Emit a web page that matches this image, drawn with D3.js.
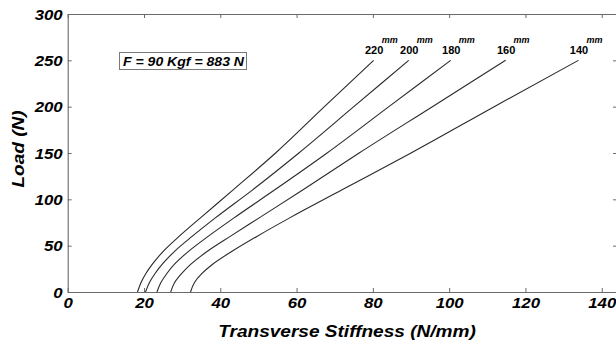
<!DOCTYPE html>
<html>
<head>
<meta charset="utf-8">
<script src="https://cdn.jsdelivr.net/npm/d3@7"></script>
<style>
  html, body { margin: 0; padding: 0; background: #fff; }
  svg { display: block; }
  text { font-family: "Liberation Sans", Arial, Helvetica, sans-serif; }
</style>
</head>
<body>
<svg id="chart" width="616" height="349"></svg>
<script>
// Transverse stiffness vs. load for five tyre/spring widths (F = 90 Kgf)
const loads = [0, 10, 20, 30, 45, 60, 80, 110, 150, 200, 250];
const widths = ["220", "200", "180", "160", "140"];
const stiff220 = [18.3, 19.2, 20.5, 22.2, 25.3, 29.2, 34.8, 43.3, 54.5, 67.3, 80.2];
const stiff200 = [20.4, 21.4, 22.9, 24.8, 28.3, 32.6, 38.7, 48.4, 60.6, 75.0, 89.4];
const stiff180 = [23.4, 24.4, 26.0, 28.0, 32.0, 36.8, 43.6, 54.2, 68.0, 84.2, 100.4];
const stiff160 = [27.0, 28.0, 29.9, 32.3, 37.0, 42.6, 50.2, 61.6, 76.4, 95.6, 114.8];
const stiff140 = [32.2, 33.2, 35.2, 38.0, 43.5, 49.6, 58.2, 71.8, 90.0, 111.8, 133.9];
const xTicks = [0, 20, 40, 60, 80, 100, 120, 140];
const yTicks = [0, 50, 100, 150, 200, 250, 300];
const unitLabel = "mm";
const noteText = "F = 90 Kgf = 883 N";

const seriesValues = [stiff220, stiff200, stiff180, stiff160, stiff140];
const series = widths.map((w, i) => ({
  width: w,
  points: loads.map((L, j) => ({ load: L, k: seriesValues[i][j] }))
}));

const svg = d3.select("#chart");
const x = d3.scaleLinear().domain([0, 144]).range([67.7, 617]);
const y = d3.scaleLinear().domain([0, 300]).range([292, 14]);

const axisColor = "#6a6a6a";
const tickFont = 'italic bold 14px "Liberation Sans", Arial, sans-serif';

// widen glyph runs horizontally by a factor k
function stretch(sel, k) {
  sel.each(function () {
    const w = this.getComputedTextLength();
    this.setAttribute("textLength", (w * k).toFixed(2));
    this.setAttribute("lengthAdjust", "spacingAndGlyphs");
  });
}

function styleAxis(g, showLabels) {
  g.select(".domain").attr("stroke", axisColor).attr("stroke-width", 1.1);
  g.selectAll(".tick line").attr("stroke", axisColor).attr("stroke-width", 1);
  g.selectAll(".tick text")
    .attr("fill", "#000")
    .style("font", tickFont)
    .style("display", showLabels ? null : "none");
}

// frame: four axes with inward ticks
const gx = svg.append("g").attr("transform", `translate(0,${y(0)})`)
  .call(d3.axisBottom(x).tickValues(xTicks).tickSizeInner(-4).tickSizeOuter(0).tickPadding(6));
styleAxis(gx, true);
const gxt = svg.append("g").attr("transform", `translate(0,${y(300)})`)
  .call(d3.axisTop(x).tickValues(xTicks).tickSizeInner(-4).tickSizeOuter(0).tickFormat(""));
styleAxis(gxt, false);
const gy = svg.append("g").attr("transform", `translate(${x(0)},0)`)
  .call(d3.axisLeft(y).tickValues(yTicks).tickSizeInner(-4).tickSizeOuter(0).tickPadding(5));
styleAxis(gy, true);
const gyr = svg.append("g").attr("transform", `translate(${x(144)},0)`)
  .call(d3.axisRight(y).tickValues(yTicks).tickSizeInner(-4).tickSizeOuter(0).tickFormat(""));
styleAxis(gyr, false);

gy.selectAll(".tick text").attr("dy", "0.36em");
stretch(gx.selectAll(".tick text"), 1.2);
stretch(gy.selectAll(".tick text"), 1.2);

// curves
const line = d3.line()
  .x(d => x(d.k))
  .y(d => y(d.load))
  .curve(d3.curveMonotoneY);

svg.append("g").selectAll("path")
  .data(series)
  .join("path")
  .attr("d", d => line(d.points))
  .attr("fill", "none")
  .attr("stroke", "#2a2a2a")
  .attr("stroke-width", 1.1);

// width labels at the top end of each curve
const lab = svg.append("g").selectAll("g")
  .data(series)
  .join("g")
  .attr("transform", d => {
    const end = d.points[d.points.length - 1];
    return `translate(${x(end.k)},${y(end.load)})`;
  });
lab.append("text")
  .attr("x", 0.5).attr("y", -6.5)
  .attr("text-anchor", "middle")
  .style("font", 'bold 11px "Liberation Sans", Arial, sans-serif')
  .text(d => d.width);
lab.append("text")
  .attr("x", 8).attr("y", -17)
  .style("font", 'italic bold 9px "Liberation Sans", Arial, sans-serif')
  .text(unitLabel);

// force annotation
const note = svg.append("g");
note.append("rect")
  .attr("x", 119.5).attr("y", 52.5).attr("width", 127).attr("height", 17)
  .attr("fill", "#fff").attr("stroke", "#7a7a7a").attr("stroke-width", 1);
note.append("text")
  .attr("x", 123).attr("y", 66.3)
  .style("font", 'italic bold 13.5px "Liberation Sans", Arial, sans-serif')
  .text(noteText)
  .call(s => s.attr("textLength", 121).attr("lengthAdjust", "spacingAndGlyphs"));

// axis titles
const xt = svg.append("text")
  .attr("x", 347).attr("y", 337)
  .attr("text-anchor", "middle")
  .style("font", 'italic bold 16px "Liberation Sans", Arial, sans-serif')
  .text("Transverse Stiffness (N/mm)");
stretch(xt, 1.19);

const yt = svg.append("text")
  .attr("transform", "translate(24,149) rotate(-90)")
  .attr("text-anchor", "middle")
  .style("font", 'italic bold 16px "Liberation Sans", Arial, sans-serif')
  .text("Load (N)");
stretch(yt, 1.19);
</script>
</body>
</html>
